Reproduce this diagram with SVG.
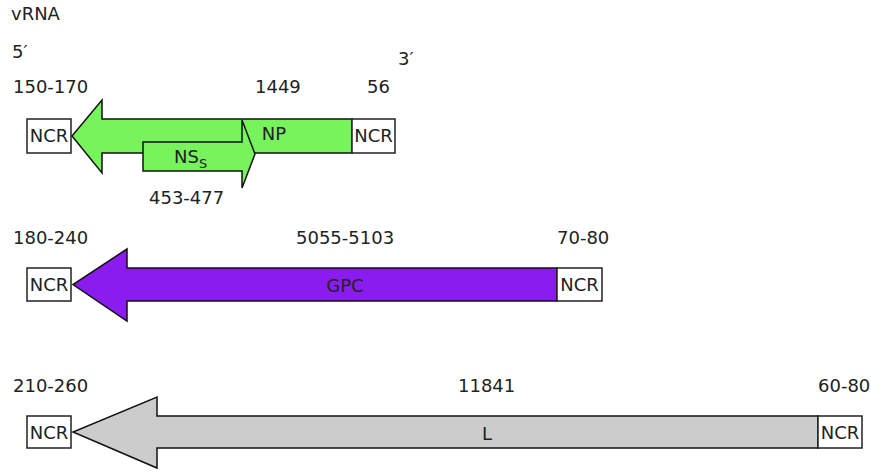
<svg xmlns="http://www.w3.org/2000/svg" width="871" height="476" viewBox="0 0 871 476">
<style>
text{font-family:"DejaVu Sans","Liberation Sans",sans-serif;font-size:18px;fill:#222}
.ncr rect{fill:#fff;stroke:#222;stroke-width:1.5}
.ncr text{text-anchor:middle}
.arr{stroke:#111;stroke-width:1.5;stroke-linejoin:miter}
.mid{text-anchor:middle}
</style>
<rect width="871" height="476" fill="#fff"/>
<g id="labels">
<text x="11" y="20">vRNA</text>
<text x="12" y="58">5′</text>
<text x="398" y="65">3′</text>
</g>
<g id="segment-S">
<text x="13" y="93">150-170</text>
<text x="255" y="93">1449</text>
<text x="367" y="93">56</text>
<g id="ncr-s5" class="ncr"><rect x="27" y="119" width="44" height="34"/><text x="49" y="142">NCR</text></g>
<g id="np"><path class="arr" d="M352,119 L102,119 L102,100 L72,136 L102,173 L102,153 L352,153 Z" fill="#77f35c"/><text class="mid" x="274" y="140">NP</text></g>
<g id="nss"><path class="arr" d="M143,142 L242,142 L242,120 L255,154 L242,188 L242,171 L143,171 Z" fill="#77f35c"/><text x="174" y="163">NS<tspan font-size="13" dy="5">S</tspan></text></g>
<g id="ncr-s3" class="ncr"><rect x="352" y="119" width="43" height="34"/><text x="373.5" y="142">NCR</text></g>
<text x="149" y="204">453-477</text>
</g>
<g id="segment-M">
<text x="13" y="244">180-240</text>
<text x="296" y="244">5055-5103</text>
<text x="557" y="244">70-80</text>
<g id="ncr-m5" class="ncr"><rect x="27" y="268" width="44" height="33"/><text x="49" y="291">NCR</text></g>
<g id="gpc"><path class="arr" d="M557,268 L127,268 L127,249 L73,284.5 L127,321 L127,301 L557,301 Z" fill="#8a1cf0"/><text class="mid" x="345" y="292">GPC</text></g>
<g id="ncr-m3" class="ncr"><rect x="557" y="268" width="45" height="33"/><text x="579.5" y="291">NCR</text></g>
</g>
<g id="segment-L">
<text x="13" y="392">210-260</text>
<text x="458" y="392">11841</text>
<text x="818" y="392">60-80</text>
<g id="ncr-l5" class="ncr"><rect x="27" y="416" width="44" height="32"/><text x="49" y="439">NCR</text></g>
<g id="l"><path class="arr" d="M818,416 L157,416 L157,397 L73,432 L157,468 L157,448 L818,448 Z" fill="#cccccc"/><text class="mid" x="487" y="440">L</text></g>
<g id="ncr-l3" class="ncr"><rect x="818" y="416" width="44" height="32"/><text x="840" y="439">NCR</text></g>
</g>
<g id="connectors"/>
</svg>
